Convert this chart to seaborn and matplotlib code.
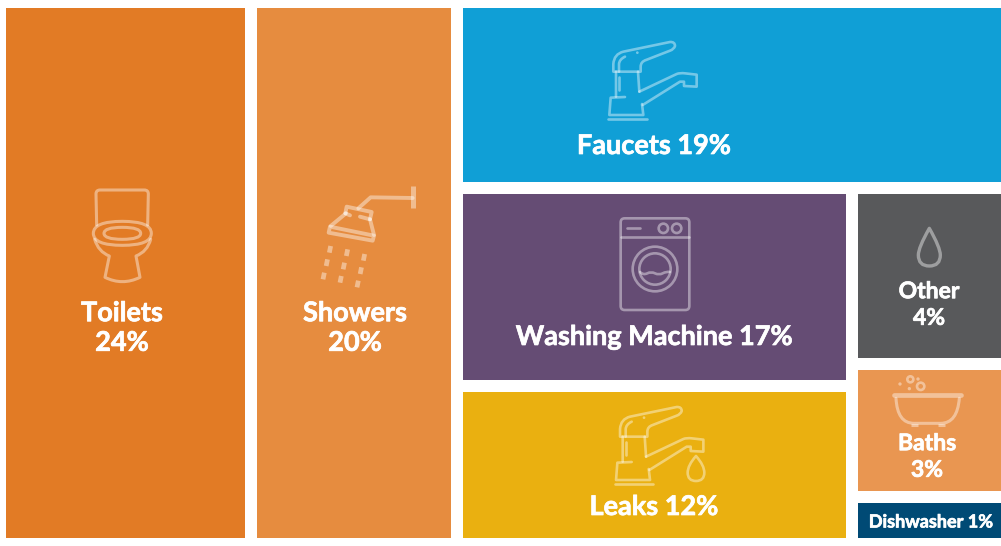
# modules
import matplotlib
matplotlib.use('Agg')
import matplotlib.pyplot as plt
import matplotlib.patheffects as pe
from matplotlib.path import Path
from matplotlib.patches import PathPatch, Rectangle, Circle
import seaborn as sns

sns.set_theme(style='white')
plt.rcParams['font.family'] = ['Lato', 'DejaVu Sans']

# the chart's values
categories = ['Toilets', 'Showers', 'Faucets', 'Washing Machine', 'Leaks', 'Other', 'Baths', 'Dishwasher']
percent = [24, 20, 19, 17, 12, 4, 3, 1]
# tile areas, they are not quite the printed percentages
tile_area = [24.93, 20.46, 18.74, 14.33, 11.43, 5.00, 3.78, 1.33]
colors = ['#E27B25', '#E68C3F', '#109FD6', '#654C74', '#EAB010', '#58595B', '#E99651', '#004A75']

GAP = 12
INK = (1, 1, 1, 0.42)


def svg(s):
    # small svg style path: M L Q Z with absolute coordinates
    codes, verts = [], []
    tok = s.split()
    i = 0
    while i < len(tok):
        c = tok[i]
        i += 1
        if c == 'Z':
            codes.append(Path.CLOSEPOLY)
            verts.append(verts[-1])
            continue
        n = {'M': 1, 'L': 1, 'Q': 2}[c]
        kind = {'M': Path.MOVETO, 'L': Path.LINETO, 'Q': Path.CURVE3}[c]
        for _ in range(n):
            verts.append((float(tok[i]), float(tok[i + 1])))
            codes.append(kind)
            i += 2
    return Path(verts, codes)


def stroke(ax, s, ox, oy, lw=1.9, fill=False, cap='round'):
    # coordinates are 3x crop units, relative to the crop corner ox, oy
    p = svg(s)
    p = Path([(ox + x / 3, oy + y / 3) for x, y in p.vertices], p.codes)
    ax.add_patch(PathPatch(p, fc=INK if fill else 'none', ec=INK, lw=lw, capstyle=cap, joinstyle='round'))


def ring(ax, x, y, r, ox, oy, lw=1.9, fill=False):
    ax.add_patch(Circle((ox + x / 3, oy + y / 3), r / 3, fc=INK if fill else 'none', ec=INK if not fill else 'none', lw=lw))


def toilet(ax, ox, oy):
    stroke(ax, 'M 110 165 L 108 72 Q 108 60 120 60 L 253 60 Q 265 60 265 72 L 263 165', ox, oy, 2.2)
    stroke(ax, 'M 100 190 Q 100 154 187 154 Q 274 154 274 190 Q 274 226 187 226 Q 100 226 100 190 Z', ox, oy, 2.2)
    stroke(ax, 'M 132 190 Q 132 172 187 172 Q 242 172 242 190 Q 242 208 187 208 Q 132 208 132 190 Z', ox, oy, 2.2)
    stroke(ax, 'M 104 208 Q 115 245 148 258 L 135 322 Q 187 348 240 322 L 228 258 Q 262 245 272 208', ox, oy, 2.2)


def shower(ax, ox, oy):
    stroke(ax, 'M 368 48 L 368 113', ox, oy, 3.6, cap='butt')
    stroke(ax, 'M 368 84 L 242 82 L 205 115', ox, oy, 2.8)
    stroke(ax, 'M 166 130 L 170 110 L 245 126 L 240 148', ox, oy, 2.8)
    stroke(ax, 'M 210 140 L 240 148', ox, oy, 2.8)
    stroke(ax, 'M 166 130 L 180 136', ox, oy, 2.8)
    stroke(ax, 'M 168 130 L 122 168 M 240 148 L 252 195', ox, oy, 2.8)
    stroke(ax, 'M 120 170 L 252 197 L 248 212 L 116 188 Z', ox, oy, 2.8)
    for dx, dy in [(0, 0), (51, 10), (102, 24)]:
        for k in range(3):
            x = 122 + dx - k * 9.5
            y = 228 + dy + k * 40
            stroke(ax, f'M {x} {y} L {x - 4} {y + 20}', ox, oy, 3.4, cap='butt')


def faucet(ax, ox, oy):
    stroke(ax, 'M 130 125 L 130 102 Q 132 72 160 65 L 300 36 Q 315 35 315 48 Q 312 58 300 62 L 228 90 Q 212 95 212 110 L 212 125 L 130 125 Z', ox, oy)
    stroke(ax, 'M 147 125 L 147 102 Q 148 88 165 80', ox, oy)
    ring(ax, 202, 68, 4, ox, oy, fill=True)
    stroke(ax, 'M 138 125 L 138 200 M 204 125 L 208 185', ox, oy)
    stroke(ax, 'M 208 185 L 320 132 Q 330 128 345 130 L 380 134 L 380 170 L 342 168 L 342 155 L 330 155 L 218 225', ox, oy)
    stroke(ax, 'M 165 201 L 122 203 L 118 255 L 220 255 L 216 222', ox, oy)
    stroke(ax, 'M 147 140 L 147 180', ox, oy)
    stroke(ax, 'M 115 266 L 230 266', ox, oy)


def washer(ax, ox, oy):
    stroke(ax, 'M 62 37 Q 62 25 74 25 L 256 25 Q 268 25 268 37 L 268 288 Q 268 300 256 300 L 74 300 Q 62 300 62 288 Z', ox, oy)
    stroke(ax, 'M 62 80 L 268 80 M 80 55 L 120 55', ox, oy)
    ring(ax, 190, 55, 14, ox, oy)
    ring(ax, 230, 55, 14, ox, oy)
    ring(ax, 165, 177, 67, ox, oy)
    ring(ax, 165, 177, 47, ox, oy)
    stroke(ax, 'M 120 186 Q 130 196 142 190 Q 153 184 165 190 Q 177 196 188 190 Q 199 184 210 186', ox, oy)


def drop(ax, ox, oy, cx, top, bottom, half, lw):
    mid = bottom - half
    stroke(ax, f'M {cx} {top} Q {cx - half} {mid - 22} {cx - half} {mid} Q {cx - half} {bottom} {cx} {bottom} '
               f'Q {cx + half} {bottom} {cx + half} {mid} Q {cx + half} {mid - 22} {cx} {top} Z', ox, oy, lw)


def bath(ax, ox, oy):
    stroke(ax, 'M 132 104 L 333 104', ox, oy, 3.4)
    stroke(ax, 'M 138 115 Q 142 190 192 190 L 272 190 Q 322 190 328 115', ox, oy, 2.2)
    stroke(ax, 'M 184 195 L 204 195 M 264 195 L 284 195', ox, oy, 2.2, cap='butt')
    ring(ax, 181, 58, 9, ox, oy)
    ring(ax, 212, 79, 11, ox, oy)
    for x, y in [(150, 72), (178, 86), (204, 57)]:
        ring(ax, x, y, 5, ox, oy, fill=True)


# slice and dice the frame by area, tiles get inset by half the gutter
def slice_tiles(x0, y0, x1, y1, areas):
    total = sum(areas)
    w = x1 - x0
    h = y1 - y0
    a = areas[:2] + [sum(areas[2:])]
    c1 = x0 + w * a[0] / total
    c2 = c1 + w * a[1] / total
    rects = [(x0, y0, c1, y1), (c1, y0, c2, y1)]
    # right column: one row on top, then two stacks side by side
    rest = a[2]
    r1 = y0 + h * areas[2] / rest
    rects.append((c2, y0, x1, r1))
    low = rest - areas[2]
    left = areas[3] + areas[4]
    c3 = c2 + (x1 - c2) * left / low
    r2 = r1 + (y1 - r1) * areas[3] / left
    rects.append((c2, r1, c3, r2))
    rects.append((c2, r2, c3, y1))
    side = areas[5] + areas[6] + areas[7]
    r3 = r1 + (y1 - r1) * areas[5] / side
    r4 = r3 + (y1 - r1) * areas[6] / side
    rects.extend([(c3, r1, x1, r3), (c3, r3, x1, r4), (c3, r4, x1, y1)])
    return rects


palette = sns.color_palette(colors)
fig, ax = plt.subplots(figsize=(10.01, 5.46), dpi=100)
ax.set_position([0, 0, 1, 1])
ax.set_xlim(0, 1001)
ax.set_ylim(546, 0)
ax.set_axis_off()
sns.despine(ax=ax, left=True, bottom=True)

for (x0, y0, x1, y1), c in zip(slice_tiles(0, 2, 1007, 544, tile_area), palette):
    ax.add_patch(Rectangle((x0 + GAP / 2, y0 + GAP / 2), x1 - x0 - GAP, y1 - y0 - GAP, fc=c, ec='none'))

toilet(ax, 60, 170)
shower(ax, 290, 170)
faucet(ax, 570, 30)
washer(ax, 600, 210)
faucet(ax, 576.7, 395)
drop(ax, 600, 395, 288, 183, 258, 25, 1.9)
drop(ax, 850, 185, 238, 130, 243, 33, 2.4)
bath(ax, 850, 360)

# label centres in pixels, and which labels break onto two lines
label_x = [122, 355, 654, 654, 654, 929, 927, 931]
label_y = [328, 328, 146, 337, 507, 305, 457, 522]
two_lines = [True, True, False, False, False, True, True, False]
label_size = [19.5, 19.5, 19.5, 19.5, 19.5, 16.5, 16.5, 13]
line_gap = [1.28, 1.28, 1, 1, 1, 1.33, 1.33, 1]
for name, pct, x, y, two, fs, lg in zip(categories, percent, label_x, label_y, two_lines, label_size, line_gap):
    txt = f'{name}\n{pct}%' if two else f'{name} {pct}%'
    t = ax.text(x, y, txt, color='white', ha='center', va='center', fontsize=fs, fontweight='bold', linespacing=lg)
    # the original lettering is a bit heavier than Lato Bold
    t.set_path_effects([pe.withStroke(linewidth=0.5, foreground='white')])

fig.savefig('out.png', dpi=100)
plt.close('all')
